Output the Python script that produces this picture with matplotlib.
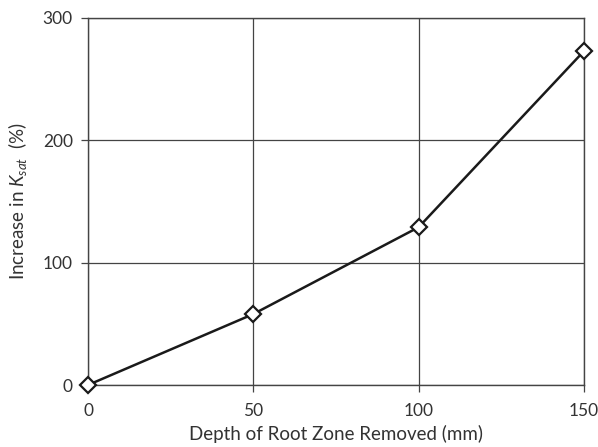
import matplotlib
matplotlib.use("Agg")
import matplotlib.pyplot as plt

depth = [0, 50, 100, 150]
increase = [0, 58, 129, 273]
xticks = [0, 50, 100, 150]
yticks = [0, 100, 200, 300]

plt.rcParams['font.family'] = ['Lato', 'DejaVu Sans']
plt.rcParams['mathtext.fontset'] = 'custom'
plt.rcParams['mathtext.rm'] = 'Lato'
plt.rcParams['mathtext.it'] = 'Lato:italic'

fig = plt.figure(figsize=(5.98, 4.47), dpi=100)
ax = fig.add_axes([88/598, 1-385/447, (584-88)/598, (385-18)/447])

ax.plot(depth, increase, color='#1a1a1a', lw=1.8, marker='D', markersize=8.5,
        markerfacecolor='white', markeredgecolor='#1a1a1a', markeredgewidth=1.6,
        zorder=5, clip_on=False)

ax.set_xlim(0, 150)
ax.set_ylim(0, 300)
ax.set_xticks(xticks)
ax.set_yticks(yticks)
ax.grid(True, color='#444444', lw=0.9)
ax.set_axisbelow(True)
for s in ['top', 'right', 'left', 'bottom']:
    ax.spines[s].set_color('#444444')
    ax.spines[s].set_linewidth(1.0)
ax.tick_params(direction='out', length=5, width=0.9, color='#444444',
               labelsize=12.5, labelcolor='#333333', pad=6)
ax.tick_params(axis='x', pad=8)

ax.set_xlabel('Depth of Root Zone Removed (mm)', fontsize=13.5, color='#333333', labelpad=4)
ax.set_ylabel(r'Increase in $\mathit{K}_{\mathit{sat}}$  (%)', fontsize=13.5, color='#333333', labelpad=10)

fig.savefig('out.png', dpi=100)
